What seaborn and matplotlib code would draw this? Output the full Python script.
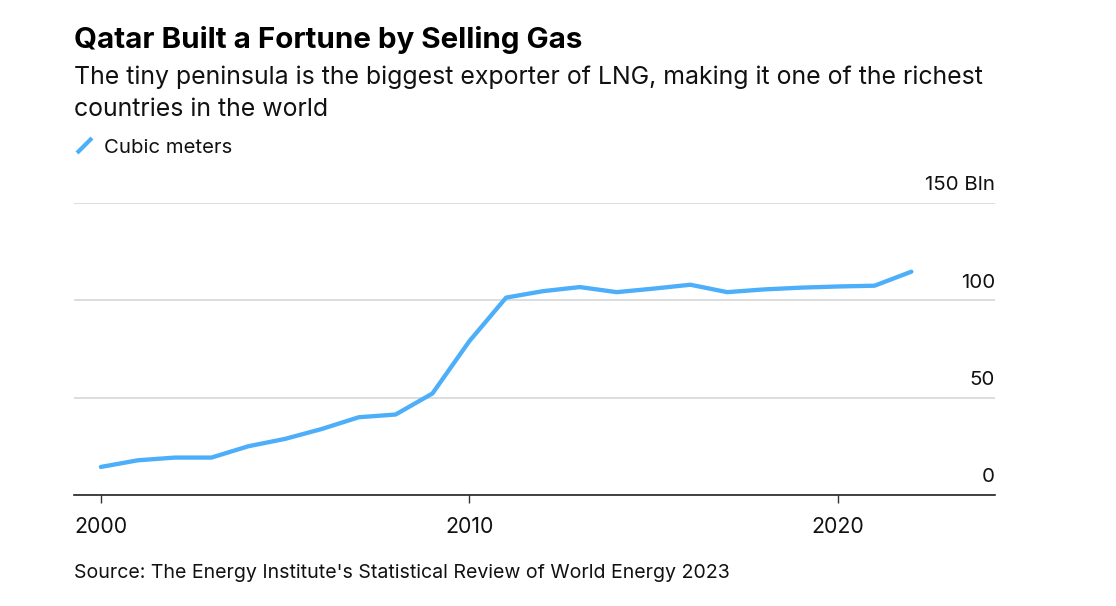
import matplotlib
matplotlib.use("Agg")
import matplotlib.pyplot as plt
from matplotlib.lines import Line2D
import seaborn as sns
import pandas as pd

# Qatar LNG exports, billion cubic meters
years = list(range(2000, 2023))
exports = [14.4, 17.8, 19.2, 19.2, 25.0, 28.8, 33.9, 39.9, 41.3, 52.1, 78.9,
           101.3, 104.6, 106.7, 104.1, 105.9, 107.9, 104.1, 105.5, 106.4,
           107.0, 107.4, 114.6]
x_ticks = [2000, 2010, 2020]
y_ticks = [0, 50, 100, 150]
y_labels = ["0", "50", "100", "150 Bln"]

title = "Qatar Built a Fortune by Selling Gas"
subtitle_lines = ["The tiny peninsula is the biggest exporter of LNG, making it one of the richest",
                  "countries in the world"]
legend_label = "Cubic meters"
source = "Source: The Energy Institute's Statistical Review of World Energy 2023"

blue = "#4daffa"
ink = "#111111"

sns.set_theme(style="white")
plt.rcParams["font.family"] = ["Inter", "DejaVu Sans"]

df = pd.DataFrame({"year": years, "bcm": exports})

W, H = 1116, 606
fig = plt.figure(figsize=(W / 100, H / 100), dpi=100)
ax = fig.add_axes([74 / W, 1 - 495 / H, (995 - 74) / W, (495 - 202.7) / H])

sns.lineplot(data=df, x="year", y="bcm", ax=ax, color=blue, linewidth=3.1,
             solid_capstyle="round", legend=False)

ax.set_xlim(1999.27, 2024.27)
ax.set_ylim(0, 150)
ax.set_xticks(x_ticks)
ax.set_xticklabels([str(t) for t in x_ticks], fontsize=15.3, color=ink)
ax.set_yticks(y_ticks)
ax.set_yticklabels([])
ax.tick_params(axis="y", length=0)
ax.tick_params(axis="x", direction="out", length=6, width=1, color="#333333",
               pad=10, bottom=True)
ax.set_xlabel("")
ax.set_ylabel("")

for side in ["top", "left", "right"]:
    ax.spines[side].set_visible(False)
ax.spines["bottom"].set_color("#222222")
ax.spines["bottom"].set_linewidth(1.2)
ax.spines["bottom"].set_zorder(5)

ax.grid(axis="y", color="#dddddd", linewidth=1.4)
ax.grid(axis="x", visible=False)

# y labels sit right-aligned just above their gridlines
for v, lab in zip(y_ticks, y_labels):
    ax.annotate(lab, xy=(1, v), xycoords=("axes fraction", "data"),
                xytext=(0, 9), textcoords="offset points",
                ha="right", va="baseline", fontsize=14.8, color=ink)

fig.text(74 / W, 1 - 47.7 / H, title, fontsize=21.3, fontweight="bold",
         ha="left", va="baseline", color="black")
for base, line in zip([84.3, 116], subtitle_lines):
    fig.text(74 / W, 1 - base / H, line, fontsize=17.9, ha="left",
             va="baseline", color=ink)

fig.add_artist(Line2D([77 / W, 92 / W], [1 - 153 / H, 1 - 138 / H],
                      color=blue, linewidth=3, solid_capstyle="butt"))
fig.text(104 / W, 1 - 153.3 / H, legend_label, fontsize=14.6, ha="left",
         va="baseline", color=ink)

fig.text(74 / W, 1 - 578.3 / H, source, fontsize=14.1, ha="left",
         va="baseline", color=ink)

fig.savefig("out.png", dpi=100)
